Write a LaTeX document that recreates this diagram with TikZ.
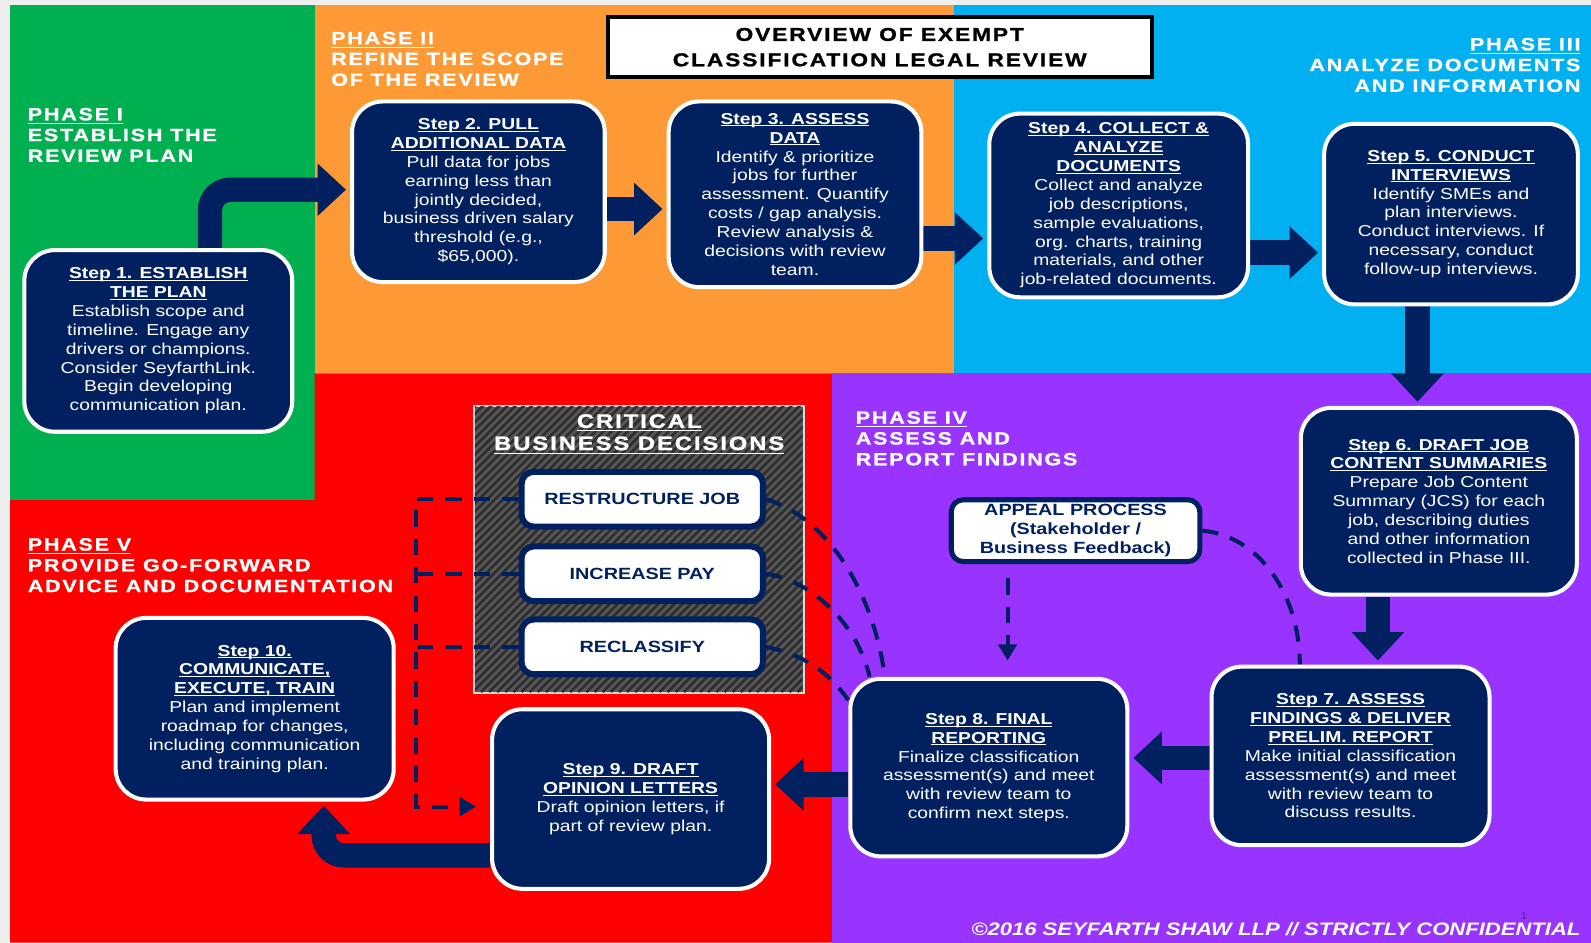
\documentclass[tikz,border=0pt]{standalone}
\usepackage{fontspec}
\setmainfont[FakeStretch=1.22]{Liberation Sans}
\newfontfamily\phasefont[FakeStretch=1.22,LetterSpace=10,FakeBold=1.2]{Liberation Sans}
\usetikzlibrary{arrows.meta}

\definecolor{navy}{RGB}{0,32,96}
\definecolor{phgreen}{RGB}{0,176,80}
\definecolor{phorange}{RGB}{253,154,54}
\definecolor{phblue}{RGB}{0,176,240}
\definecolor{phred}{RGB}{255,0,0}
\definecolor{phpurple}{RGB}{153,51,255}
\definecolor{pagegrey}{RGB}{238,238,238}

\pgfdeclarelayer{panels}
\pgfdeclarelayer{links}
\pgfsetlayers{panels,links,main}

\tikzset{every picture/.style={line width=0.75pt}}
\tikzset{
  stepbox/.style={draw=white, line width=2pt, fill=navy, rounded corners=15pt, text=white, align=center, inner sep=0pt, font=\fontsize{7.8}{9.3}\selectfont},
  choice/.style={draw=navy, line width=3pt, fill=white, rounded corners=6pt, text=navy, align=center, inner sep=0pt, minimum width=119pt, minimum height=27pt, font=\bfseries\fontsize{8}{9.5}\selectfont},
  phase/.style={text=white, inner sep=0pt, font=\phasefont\bfseries\fontsize{8.7}{10.25}\selectfont},
  flow/.style={draw=navy, line width=12pt, -{Triangle[length=14pt,width=25pt]}, shorten >=2pt},
  dashlink/.style={draw=navy, line width=2pt, dash pattern=on 8pt off 6pt},
  dashtip/.style={-{Triangle[length=8pt,width=9pt]}},
}
% bold heading with a rule just under the baseline
\newcommand{\head}[1]{\setbox0\hbox{\textbf{#1}}\rlap{\rule[-1.1pt]{\wd0}{0.5pt}}\box0}

\begin{document}
\begin{tikzpicture}[x=0.5pt,y=0.5pt,yscale=-1,xscale=1]
\useasboundingbox (0,0) rectangle (1568,929);

\begin{pgfonlayer}{panels}
%Shape: Rectangle
\fill[pagegrey] (0,0) rectangle (1568,929);
%Shape: Rectangle
\fill[phgreen] (10,5) rectangle (310,493);
%Shape: Rectangle
\fill[phorange] (310,5) rectangle (940,368);
%Shape: Rectangle
\fill[phblue] (940,5) rectangle (1568,368);
%Shape: Polygon
\fill[phred] (10,493) -- (310,493) -- (310,368) -- (820,368) -- (820,929) -- (10,929) -- cycle;
%Shape: Rectangle
\fill[phpurple] (820,368) rectangle (1568,929);
%Shape: Rectangle
\draw[white!85!black, line width=1pt, fill=black!66] (467,400) rectangle (792,683);
\begin{scope}
\clip (468,401) rectangle (791,682);
\foreach \k in {0,8,...,616}
  \draw[black!82, line width=1.3pt] (\k+178,682) -- ++(300,-300);
\end{scope}
\end{pgfonlayer}

% Text Node
\node[draw=black, line width=2pt, fill=white, minimum width=268pt, minimum height=29.5pt, inner sep=0pt, align=center, font=\phasefont\bfseries\fontsize{9.2}{12.5}\selectfont] (title) at (867,46.5) {OVERVIEW OF EXEMPT\\CLASSIFICATION LEGAL REVIEW};

% Text Node
\node[phase, anchor=north west, align=left] (ph1) at (27,106) {\underline{PHASE I}\\ESTABLISH THE\\REVIEW PLAN};
% Text Node
\node[phase, anchor=north west, align=left] (ph2) at (326,31) {\underline{PHASE II}\\REFINE THE SCOPE\\OF THE REVIEW};
% Text Node
\node[phase, anchor=north east, align=right] (ph3) at (1558,37) {\underline{PHASE III}\\ANALYZE DOCUMENTS\\AND INFORMATION};
% Text Node
\node[phase, anchor=north west, align=left] (ph4) at (843,405) {\underline{PHASE IV}\\ASSESS AND\\REPORT FINDINGS};
% Text Node
\node[phase, anchor=north west, align=left] (ph5) at (27,530) {\underline{PHASE V}\\PROVIDE GO-FORWARD\\ADVICE AND DOCUMENTATION};

% Step Nodes
\node[stepbox, minimum width=132pt, minimum height=89.5pt] (step1) at (156,336) {\head{Step 1. ESTABLISH}\\\head{THE PLAN}\\Establish scope and\\timeline. Engage any\\drivers or champions.\\Consider SeyfarthLink.\\Begin developing\\communication plan.};
\node[stepbox, minimum width=124.5pt, minimum height=89pt] (step2) at (471.5,189) {\head{Step 2. PULL}\\\head{ADDITIONAL DATA}\\Pull data for jobs\\earning less than\\jointly decided,\\business driven salary\\threshold (e.g.,\\\$65,000).};
\node[stepbox, minimum width=124.5pt, minimum height=91.5pt] (step3) at (783.5,191.5) {\head{Step 3. ASSESS}\\\head{DATA}\\Identify \& prioritize\\jobs for further\\assessment. Quantify\\costs / gap analysis.\\Review analysis \&\\decisions with review\\team.};
\node[stepbox, minimum width=127.5pt, minimum height=90.5pt] (step4) at (1102.5,202.5) {\head{Step 4. COLLECT \&}\\\head{ANALYZE}\\\head{DOCUMENTS}\\Collect and analyze\\job descriptions,\\sample evaluations,\\org. charts, training\\materials, and other\\job-related documents.};
\node[stepbox, minimum width=125pt, minimum height=89pt] (step5) at (1430,211) {\head{Step 5. CONDUCT}\\\head{INTERVIEWS}\\Identify SMEs and\\plan interviews.\\Conduct interviews. If\\necessary, conduct\\follow-up interviews.};
\node[stepbox, minimum width=136pt, minimum height=92pt] (step6) at (1418,494) {\head{Step 6. DRAFT JOB}\\\head{CONTENT SUMMARIES}\\Prepare Job Content\\Summary (JCS) for each\\job, describing duties\\and other information\\collected in Phase III.};
\node[stepbox, minimum width=137pt, minimum height=88pt] (step7) at (1331,745) {\head{Step 7. ASSESS}\\\head{FINDINGS \& DELIVER}\\\head{PRELIM. REPORT}\\Make initial classification\\assessment(s) and meet\\with review team to\\discuss results.};
\node[stepbox, minimum width=136.5pt, minimum height=87.5pt] (step8) at (974.5,756.5) {\head{Step 8. FINAL}\\\head{REPORTING}\\Finalize classification\\assessment(s) and meet\\with review team to\\confirm next steps.};
\node[stepbox, minimum width=136.5pt, minimum height=88.5pt] (step9) at (621.5,787.5) {\head{Step 9. DRAFT}\\\head{OPINION LETTERS}\\Draft opinion letters, if\\part of review plan.};
\node[stepbox, minimum width=137pt, minimum height=89.5pt] (step10) at (251,698.5) {\head{Step 10.}\\\head{COMMUNICATE,}\\\head{EXECUTE, TRAIN}\\Plan and implement\\roadmap for changes,\\including communication\\and training plan.};

% Text Node
\node[text=white, align=center, inner sep=0pt, font=\phasefont\bfseries\fontsize{9.6}{11}\selectfont] (crit) at (630,428) {\underline{CRITICAL}\\\underline{BUSINESS DECISIONS}};
% Decision Nodes
\node[choice] (rjob) at (633,492) {RESTRUCTURE JOB};
\node[choice] (ipay) at (633,565.5) {INCREASE PAY};
\node[choice] (rclass) at (633,637.5) {RECLASSIFY};
% Text Node
\node[choice, line width=2.5pt, minimum width=122.5pt, minimum height=30.5pt] (appeal) at (1060,523) {APPEAL PROCESS\\(Stakeholder /\\Business Feedback)};

% Text Node
\node[anchor=east, text=white, inner sep=0pt, font=\bfseries\itshape\fontsize{8.9}{10}\selectfont] (copy) at (1558,916) {©2016 SEYFARTH SHAW LLP // STRICTLY CONFIDENTIAL};
% Text Node
\node[text=phpurple!60!black, inner sep=0pt, font=\fontsize{5}{6}\selectfont] (pgnum) at (1502,903) {1};

\begin{pgfonlayer}{links}
%Straight Lines
\draw[flow, rounded corners=10pt] (step1.north -| 207,0) |- (step2.west |- 0,187);
\draw[flow] (step2.east |- 0,206) -- (step3.west |- 0,206);
\draw[flow] (step3.east |- 0,235) -- (step4.west |- 0,235);
\draw[flow] (step4.east |- 0,249) -- (step5.west |- 0,249);
\draw[flow] (step5.south -| 1397,0) -- (step6.north -| 1397,0);
\draw[flow] (step6.south -| 1358,0) -- (step7.north -| 1358,0);
\draw[flow] (step7.west |- 0,747) -- (step8.east |- 0,747);
\draw[flow] (step8.west |- 0,773) -- (step9.east |- 0,773);
\draw[flow, rounded corners=10pt] (step9.west |- 0,843) -| (step10.south -| 319,0);

%Dashed Lines
\draw[dashlink, dashtip, shorten >=7pt] (rjob.west) -| (410,795) -- (step9.west |- 0,795);
\draw[dashlink] (ipay.west) -- (ipay.west -| 410,0);
\draw[dashlink] (rclass.west) -- (rclass.west -| 410,0);
%Curve Lines
\draw[dashlink] (rjob.east) .. controls (820,512) and (862,590) .. (step8.north -| 872,0);
\draw[dashlink] (ipay.east) .. controls (800,572) and (845,615) .. (step8.north -| 857,0);
\draw[dashlink] (rclass.east) .. controls (790,645) and (815,660) .. (step8.west |- 0,690);
\draw[dashlink, dashtip, shorten <=7pt, shorten >=8pt] (appeal.south -| 993,0) -- (step8.north -| 993,0);
\draw[dashlink] (appeal.east) .. controls (1240,528) and (1281,585) .. (step7.north -| 1281,0);
\end{pgfonlayer}

\end{tikzpicture}
\end{document}
